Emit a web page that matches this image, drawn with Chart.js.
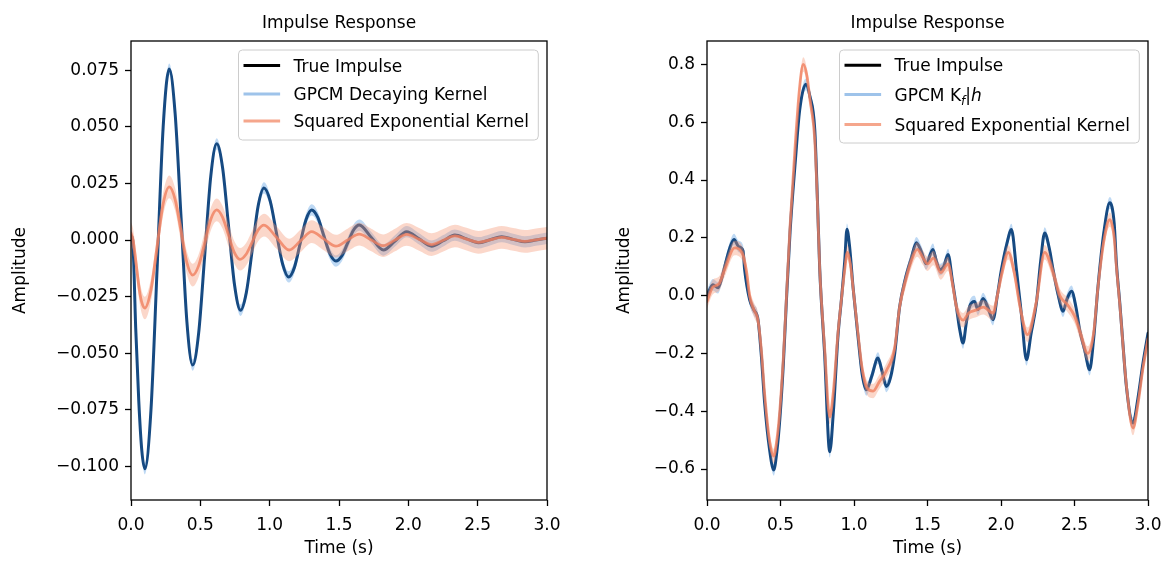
<!DOCTYPE html>
<html>
<head>
<meta charset="utf-8">
<title>Impulse Response</title>
<script src="https://cdn.jsdelivr.net/npm/chart.js@4.4.1/dist/chart.umd.min.js"></script>
<style>
  html, body { margin: 0; padding: 0; background: #fff; }
  #wrap { position: relative; width: 1164px; height: 561px; }
  .panel { position: absolute; top: 0; width: 582px; height: 561px; }
  #left { left: 0; }
  #right { left: 582px; }
</style>
</head>
<body>
<div id="wrap">
  <div class="panel" id="left"><canvas id="leftChart"></canvas></div>
  <div class="panel" id="right"><canvas id="rightChart"></canvas></div>
</div>
<script>
// ---- data ----
const xTicks = [0, 0.5, 1, 1.5, 2, 2.5, 3];
const leftYTicks = [-0.1, -0.075, -0.05, -0.025, 0, 0.025, 0.05, 0.075];
const rightYTicks = [-0.6, -0.4, -0.2, 0, 0.2, 0.4, 0.6, 0.8];

// left panel: decaying kernel
const leftTrueTime = [0.000, 0.012, 0.034, 0.056, 0.078, 0.100, 0.144, 0.188, 0.232, 0.276, 0.318, 0.361, 0.403, 0.445, 0.488, 0.532, 0.575, 0.618, 0.661, 0.704, 0.747, 0.790, 0.832, 0.875, 0.917, 0.959, 1.004, 1.048, 1.093, 1.137, 1.179, 1.220, 1.262, 1.303, 1.347, 1.390, 1.434, 1.478, 1.520, 1.562, 1.604, 1.646, 1.733, 1.820, 1.904, 1.988, 2.078, 2.168, 2.252, 2.336, 2.420, 2.505, 2.589, 2.673, 2.757, 2.841, 2.920, 3.000];
const leftTrueValue = [0.002, 0.000, -0.039, -0.071, -0.093, -0.101, -0.075, -0.013, 0.050, 0.0755, 0.056, 0.010, -0.036, -0.0552, -0.041, -0.0064, 0.028, 0.0425, 0.0317, 0.0058, -0.020, -0.031, -0.0231, -0.004, 0.0151, 0.023, 0.0172, 0.0034, -0.0105, -0.0163, -0.012, -0.0015, 0.009, 0.0133, 0.010, 0.002, -0.006, -0.0093, -0.007, -0.0014, 0.0043, 0.0066, 0.0011, -0.0044, -0.0004, 0.0037, 0.0005, -0.0027, -0.0003, 0.0022, 0.0005, -0.0012, 0.0001, 0.0015, 0.0003, -0.0008, 0.0000, 0.0008];
const leftSeTime = [0.000, 0.015, 0.040, 0.060, 0.080, 0.100, 0.144, 0.188, 0.232, 0.276, 0.318, 0.361, 0.403, 0.445, 0.488, 0.532, 0.575, 0.618, 0.660, 0.702, 0.744, 0.786, 0.829, 0.873, 0.916, 0.959, 1.050, 1.140, 1.222, 1.303, 1.390, 1.478, 1.562, 1.646, 1.733, 1.820, 1.904, 1.988, 2.078, 2.168, 2.252, 2.336, 2.420, 2.505, 2.589, 2.673, 2.757, 2.841, 2.920, 3.000];
const leftSeValue = [0.003, 0.000, -0.012, -0.022, -0.028, -0.030, -0.022, -0.003, 0.016, 0.0235, 0.018, 0.004, -0.010, -0.0155, -0.0113, -0.0011, 0.0091, 0.0133, 0.0101, 0.0024, -0.0053, -0.0085, -0.0064, -0.001, 0.0044, 0.0066, 0.0011, -0.0044, -0.0004, 0.0037, 0.0005, -0.0027, 0.0000, 0.0026, 0.0000, -0.0025, 0.0000, 0.0025, 0.0003, -0.0020, -0.0001, 0.0018, 0.0004, -0.0010, 0.0001, 0.0012, 0.0003, -0.0006, 0.0001, 0.0008];
const leftGpcmSpread = 0.0025;
const leftSeSpread = 0.005;

// right panel: K_f|h
const rightTrueTime = [0.000, 0.040, 0.075, 0.100, 0.125, 0.155, 0.184, 0.215, 0.245, 0.256, 0.290, 0.320, 0.347, 0.370, 0.392, 0.425, 0.454, 0.475, 0.495, 0.520, 0.540, 0.565, 0.600, 0.630, 0.672, 0.700, 0.733, 0.750, 0.767, 0.800, 0.835, 0.860, 0.891, 0.915, 0.937, 0.952, 0.970, 0.993, 1.027, 1.055, 1.084, 1.120, 1.163, 1.190, 1.220, 1.250, 1.277, 1.310, 1.350, 1.390, 1.424, 1.460, 1.490, 1.537, 1.560, 1.583, 1.610, 1.640, 1.670, 1.697, 1.720, 1.742, 1.765, 1.787, 1.820, 1.843, 1.878, 1.910, 1.946, 1.975, 2.003, 2.040, 2.071, 2.105, 2.140, 2.173, 2.205, 2.241, 2.270, 2.297, 2.330, 2.354, 2.390, 2.422, 2.450, 2.480, 2.510, 2.535, 2.570, 2.603, 2.630, 2.660, 2.700, 2.740, 2.770, 2.785, 2.808, 2.830, 2.853, 2.898, 2.930, 2.966, 3.000];
const rightTrueValue = [0.000, 0.038, 0.027, 0.060, 0.110, 0.165, 0.194, 0.170, 0.155, 0.090, -0.014, -0.050, -0.083, -0.210, -0.370, -0.530, -0.603, -0.540, -0.430, -0.230, -0.020, 0.220, 0.460, 0.640, 0.731, 0.690, 0.575, 0.350, 0.090, -0.200, -0.540, -0.400, -0.140, -0.010, 0.120, 0.230, 0.170, 0.032, -0.140, -0.270, -0.326, -0.280, -0.216, -0.260, -0.314, -0.280, -0.200, -0.040, 0.060, 0.130, 0.183, 0.150, 0.110, 0.160, 0.120, 0.090, 0.100, 0.142, 0.050, -0.040, -0.120, -0.164, -0.090, -0.037, -0.020, -0.048, -0.010, -0.040, -0.083, 0.000, 0.090, 0.180, 0.229, 0.090, -0.070, -0.222, -0.130, -0.025, 0.120, 0.217, 0.160, 0.090, 0.000, -0.054, -0.010, 0.015, -0.040, -0.118, -0.190, -0.256, -0.150, 0.032, 0.220, 0.321, 0.250, 0.113, -0.025, -0.170, -0.314, -0.441, -0.360, -0.233, -0.130];
const rightSeTime = [0.000, 0.040, 0.080, 0.120, 0.188, 0.245, 0.270, 0.290, 0.320, 0.347, 0.370, 0.392, 0.425, 0.454, 0.475, 0.495, 0.520, 0.540, 0.565, 0.600, 0.630, 0.655, 0.680, 0.700, 0.733, 0.750, 0.767, 0.800, 0.835, 0.860, 0.891, 0.915, 0.937, 0.955, 0.975, 0.993, 1.027, 1.055, 1.090, 1.130, 1.170, 1.220, 1.277, 1.310, 1.350, 1.390, 1.430, 1.470, 1.500, 1.540, 1.590, 1.640, 1.670, 1.697, 1.742, 1.780, 1.830, 1.880, 1.946, 1.975, 2.003, 2.050, 2.090, 2.130, 2.180, 2.241, 2.297, 2.354, 2.400, 2.450, 2.500, 2.540, 2.590, 2.630, 2.660, 2.700, 2.740, 2.770, 2.785, 2.808, 2.853, 2.898, 2.930, 2.966, 3.000];
const rightSeValue = [-0.020, 0.030, 0.040, 0.090, 0.165, 0.140, 0.080, 0.000, -0.050, -0.085, -0.190, -0.340, -0.500, -0.555, -0.500, -0.400, -0.210, -0.010, 0.240, 0.520, 0.720, 0.800, 0.760, 0.680, 0.540, 0.340, 0.090, -0.180, -0.420, -0.330, -0.130, -0.010, 0.090, 0.150, 0.110, 0.030, -0.130, -0.250, -0.320, -0.330, -0.300, -0.260, -0.180, -0.040, 0.050, 0.120, 0.160, 0.130, 0.110, 0.130, 0.080, 0.110, 0.040, -0.040, -0.085, -0.060, -0.050, -0.040, -0.060, 0.000, 0.070, 0.150, 0.080, -0.040, -0.135, -0.020, 0.150, 0.080, 0.000, -0.030, -0.070, -0.130, -0.200, -0.130, 0.030, 0.190, 0.263, 0.200, 0.100, -0.030, -0.310, -0.458, -0.380, -0.250, -0.150];
const rightGpcmSpread = 0.02;
const rightSeSpread = 0.025;

const leftLegend = ['True Impulse', 'GPCM Decaying Kernel', 'Squared Exponential Kernel'];
const rightLegend = ['True Impulse', 'GPCM K', 'Squared Exponential Kernel'];

// ---- styling ----
const FAMILY = 'DejaVu Sans';
const NAVY = '#164a82';
const BLUE_BAND = 'rgba(110,170,230,0.45)';
const ORANGE_LINE = 'rgba(240,128,95,0.8)';
const ORANGE_BAND = 'rgba(244,150,115,0.38)';
const BLUE_KEY = '#9ec3ea';
const ORANGE_KEY = '#f5a68c';

Chart.defaults.font.family = FAMILY;
Chart.defaults.font.size = 17;
Chart.defaults.color = '#000';

const fmt = (v, d) => (v < -1e-9 ? '\u2212' : '') + Math.abs(v).toFixed(d);

const frame = {
  id: 'frame',
  afterDatasetsDraw(chart) {
    const { ctx, chartArea: a } = chart;
    ctx.save();
    ctx.strokeStyle = '#000';
    ctx.lineWidth = 1.3;
    ctx.strokeRect(a.left, a.top, a.width, a.height);
    ctx.restore();
  }
};

// matplotlib-like legend box inside the axes
const boxLegend = {
  id: 'boxLegend',
  afterDraw(chart, args, opts) {
    const { ctx, chartArea } = chart;
    const fontOf = p => (p.italic ? 'italic ' : '') + (p.size || 17) + 'px "' + FAMILY + '"';
    ctx.save();
    const widths = opts.items.map(it => it.parts.reduce((w, p) => {
      ctx.font = fontOf(p);
      return w + ctx.measureText(p.text).width;
    }, 0));
    const boxW = 5 + 36.6 + 13.4 + Math.max(...widths) + 9.4;
    const x0 = chartArea.right - 8.7 - boxW;
    const y0 = chartArea.top + 9;
    ctx.beginPath();
    ctx.roundRect(x0, y0, boxW, opts.height, 4);
    ctx.fillStyle = 'rgba(255,255,255,0.8)';
    ctx.fill();
    ctx.strokeStyle = '#cccccc';
    ctx.lineWidth = 1;
    ctx.stroke();
    opts.items.forEach((it, i) => {
      const base = y0 + opts.baselines[i];
      ctx.beginPath();
      ctx.moveTo(x0 + 5, base - 6);
      ctx.lineTo(x0 + 5 + 36.6, base - 6);
      ctx.strokeStyle = it.color;
      ctx.lineWidth = 3;
      ctx.stroke();
      let x = x0 + 5 + 36.6 + 13.4;
      ctx.fillStyle = '#000';
      ctx.textAlign = 'left';
      ctx.textBaseline = 'alphabetic';
      it.parts.forEach(p => {
        ctx.font = fontOf(p);
        ctx.fillText(p.text, x, base + (p.dy || 0));
        x += ctx.measureText(p.text).width;
      });
    });
    ctx.restore();
  }
};

function buildChart(id, p) {
  const line = (ts, vs) => ts.map((t, i) => ({ x: t, y: vs[i] }));
  const shift = (ts, vs, d) => ts.map((t, i) => ({ x: t, y: vs[i] + d }));
  const tickGrid = { drawOnChartArea: false, drawTicks: true, tickLength: 6, tickWidth: 1.3, tickColor: '#000' };
  return new Chart(document.getElementById(id), {
    type: 'line',
    data: {
      datasets: [
        { label: 'Squared Exponential Kernel', data: line(p.seTime, p.seValue), borderColor: ORANGE_LINE, borderWidth: 2.8, order: 0 },
        { label: 'se upper', data: shift(p.seTime, p.seValue, p.seSpread), borderColor: 'transparent', borderWidth: 0, backgroundColor: ORANGE_BAND, fill: '+1', order: 1 },
        { label: 'se lower', data: shift(p.seTime, p.seValue, -p.seSpread), borderColor: 'transparent', borderWidth: 0, fill: false, order: 2 },
        { label: 'True Impulse', data: line(p.trueTime, p.trueValue), borderColor: NAVY, borderWidth: 3, order: 3 },
        { label: 'gpcm upper', data: shift(p.trueTime, p.trueValue, p.gpcmSpread), borderColor: 'transparent', borderWidth: 0, backgroundColor: BLUE_BAND, fill: '+1', order: 4 },
        { label: 'gpcm lower', data: shift(p.trueTime, p.trueValue, -p.gpcmSpread), borderColor: 'transparent', borderWidth: 0, fill: false, order: 5 }
      ]
    },
    options: {
      responsive: true,
      maintainAspectRatio: false,
      animation: false,
      events: [],
      layout: { padding: { left: 0, top: 0, bottom: 0, right: p.padRight } },
      elements: {
        point: { radius: 0, hoverRadius: 0 },
        line: { cubicInterpolationMode: 'monotone', borderJoinStyle: 'round', borderCapStyle: 'round' }
      },
      scales: {
        x: {
          type: 'linear', min: 0, max: 3,
          afterBuildTicks: s => { s.ticks = xTicks.map(v => ({ value: v })); },
          afterFit: s => { s.height = 61; s.paddingLeft = 0; s.paddingRight = 0; },
          ticks: { color: '#000', padding: 9, maxRotation: 0, autoSkip: false, callback: v => fmt(v, 1) },
          grid: tickGrid,
          border: { display: false },
          title: { display: true, text: 'Time (s)', color: '#000', padding: { top: 0, bottom: 2 } }
        },
        y: {
          type: 'linear', min: p.yMin, max: p.yMax,
          afterBuildTicks: s => { s.ticks = p.yTicks.map(v => ({ value: v })); },
          afterFit: s => { s.width = p.axisWidth; s.paddingTop = 0; s.paddingBottom = 0; },
          ticks: { color: '#000', padding: 6, autoSkip: false, callback: v => fmt(v, p.yDecimals) },
          grid: tickGrid,
          border: { display: false },
          title: { display: true, text: 'Amplitude', color: '#000', padding: { top: p.yTitlePad, bottom: 0 } }
        }
      },
      plugins: {
        legend: { display: false },
        tooltip: { enabled: false },
        title: {
          display: true, text: 'Impulse Response', color: '#000', fullSize: false,
          font: { size: 17, weight: 'normal' }, padding: { top: 13, bottom: 7.6 }
        },
        boxLegend: p.legend
      }
    },
    plugins: [frame, boxLegend]
  });
}

buildChart('leftChart', {
  trueTime: leftTrueTime, trueValue: leftTrueValue,
  seTime: leftSeTime, seValue: leftSeValue,
  gpcmSpread: leftGpcmSpread, seSpread: leftSeSpread,
  yMin: -0.1148, yMax: 0.0879, yTicks: leftYTicks, yDecimals: 3,
  axisWidth: 131, padRight: 35, yTitlePad: 10.8,
  legend: {
    height: 90, baselines: [21.5, 50, 77],
    items: [
      { color: '#000', parts: [{ text: leftLegend[0] }] },
      { color: BLUE_KEY, parts: [{ text: leftLegend[1] }] },
      { color: ORANGE_KEY, parts: [{ text: leftLegend[2] }] }
    ]
  }
});

buildChart('rightChart', {
  trueTime: rightTrueTime, trueValue: rightTrueValue,
  seTime: rightSeTime, seValue: rightSeValue,
  gpcmSpread: rightGpcmSpread, seSpread: rightSeSpread,
  yMin: -0.707, yMax: 0.881, yTicks: rightYTicks, yDecimals: 1,
  axisWidth: 125, padRight: 16, yTitlePad: 32.8,
  legend: {
    height: 93, baselines: [21.2, 50.5, 80.5],
    items: [
      { color: '#000', parts: [{ text: rightLegend[0] }] },
      { color: BLUE_KEY, parts: [{ text: rightLegend[1] }, { text: 'f', italic: true, size: 12, dy: 4 }, { text: '|', size: 17 }, { text: 'h', italic: true }] },
      { color: ORANGE_KEY, parts: [{ text: rightLegend[2] }] }
    ]
  }
});
</script>
</body>
</html>
